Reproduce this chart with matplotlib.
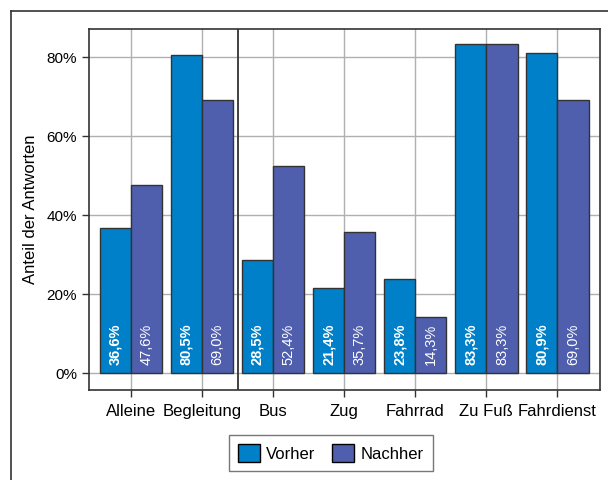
import matplotlib
matplotlib.use("Agg")
import matplotlib.pyplot as plt
import numpy as np
from matplotlib.lines import Line2D
from matplotlib.patches import Patch

plt.rcParams['font.family'] = ['Liberation Sans', 'DejaVu Sans']

categories = ["Alleine", "Begleitung", "Bus", "Zug", "Fahrrad", "Zu Fuß", "Fahrdienst"]
vorher = [36.6, 80.5, 28.5, 21.4, 23.8, 83.3, 80.9]
nachher = [47.6, 69.0, 52.4, 35.7, 14.3, 83.3, 69.0]
yticks = [0, 20, 40, 60, 80]
series_names = ["Vorher", "Nachher"]

c_vorher = "#0080C8"
c_nachher = "#4F5FAD"

fig = plt.figure(figsize=(6.08, 4.8), dpi=100)
ax = fig.add_axes([89/608, 1-390/480, (600-89)/608, (390-29)/480])

x = np.arange(len(categories))
w = 0.44
ax.set_axisbelow(True)
for xi in x:
    ax.axvline(xi, color="#b0b0b0", lw=1, zorder=0)
for yt in yticks:
    ax.axhline(yt, color="#b0b0b0", lw=1, zorder=0)
ax.axvline(1.5, color="#333333", lw=1.3, zorder=1)

b1 = ax.bar(x - w/2, vorher, w, color=c_vorher, edgecolor="#333333", lw=1, zorder=2)
b2 = ax.bar(x + w/2, nachher, w, color=c_nachher, edgecolor="#333333", lw=1, zorder=2)

def fmt(v):
    return f"{v:.1f}%".replace(".", ",")

for xi, v in zip(x, vorher):
    ax.text(xi - w/2, 2.0, fmt(v), rotation=90, ha="center", va="bottom",
            color="white", fontsize=10.5, fontweight="bold", zorder=3)
for xi, v in zip(x, nachher):
    ax.text(xi + w/2, 2.0, fmt(v), rotation=90, ha="center", va="bottom",
            color="white", fontsize=10.5, zorder=3)

ax.set_xlim(-0.59, 6.6)
ax.set_ylim(-4.3, 87.1)
ax.set_yticks(yticks)
ax.set_yticklabels([f"{t}%" for t in yticks], fontsize=11)
ax.set_xticks(x)
ax.set_xticklabels(categories, fontsize=12)
ax.tick_params(axis="both", direction="out", length=5, color="#333333", width=1)
ax.tick_params(axis="x", pad=5)
ax.set_ylabel("Anteil der Antworten", fontsize=12, labelpad=6)
for s in ax.spines.values():
    s.set_color("#333333")
    s.set_linewidth(1.2)

handles = [Patch(facecolor=c_vorher, edgecolor="black", label=series_names[0]),
           Patch(facecolor=c_nachher, edgecolor="black", label=series_names[1])]
leg = fig.legend(handles=handles, loc="center", bbox_to_anchor=(331/608, 1-453/480),
                 ncol=2, fontsize=12, frameon=True, fancybox=False, edgecolor="#555555",
                 handlelength=1.3, handleheight=1.3, borderpad=0.55, columnspacing=1.0,
                 handletextpad=0.4)
leg.get_frame().set_linewidth(1)

fig.add_artist(Line2D([11/608, 11/608], [0, 1-11/480], transform=fig.transFigure, color="#333333", lw=1.2))
fig.add_artist(Line2D([11/608, 1], [1-11/480, 1-11/480], transform=fig.transFigure, color="#333333", lw=1.2))

fig.savefig("out.png", dpi=100)
